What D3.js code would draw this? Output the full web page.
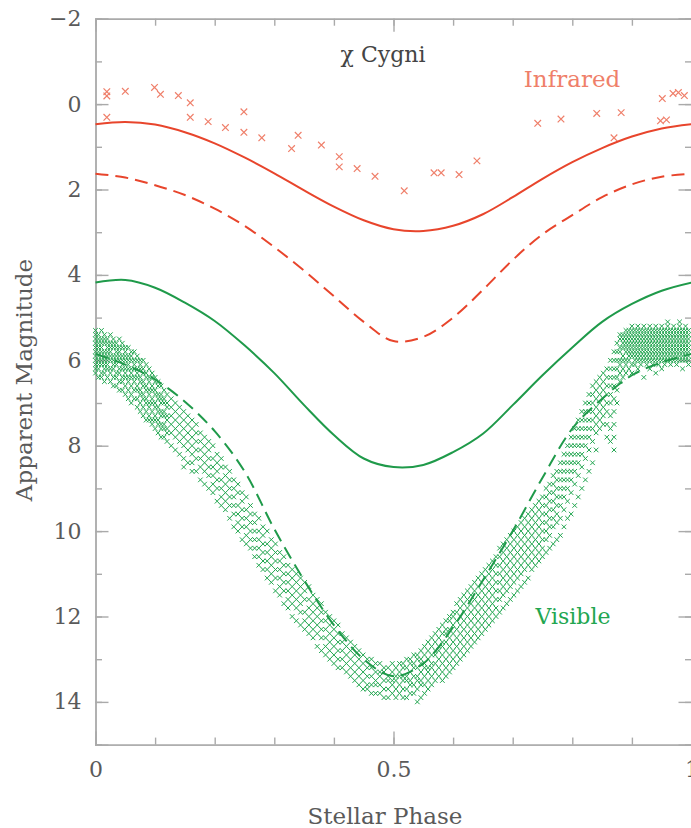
<!DOCTYPE html>
<html>
<head>
<meta charset="utf-8">
<script src="https://cdn.jsdelivr.net/npm/d3@7"></script>
<style>
body { margin: 0; background: #fff; }
text { font-family: "DejaVu Serif", serif; }
</style>
</head>
<body>
<div id="chart-area"></div>
<script>
// phase grid for the model curves
const phases = [0, 0.05, 0.1, 0.15, 0.2, 0.25, 0.3, 0.35, 0.4, 0.45, 0.5,
	0.55, 0.6, 0.65, 0.7, 0.75, 0.8, 0.85, 0.9, 0.95, 1];
const irSolid = [0.47, 0.42, 0.48, 0.66, 0.92, 1.25, 1.62, 2.02, 2.4, 2.72, 2.93,
	2.97, 2.85, 2.58, 2.18, 1.75, 1.36, 1.03, 0.76, 0.57, 0.47];
const irDashed = [1.63, 1.72, 1.9, 2.13, 2.45, 2.85, 3.35, 3.9, 4.5, 5.1, 5.55,
	5.45, 5.0, 4.35, 3.65, 3.05, 2.6, 2.18, 1.88, 1.7, 1.63];
const visSolid = [4.18, 4.12, 4.3, 4.65, 5.08, 5.65, 6.3, 7.05, 7.75, 8.3, 8.5,
	8.45, 8.15, 7.72, 7.05, 6.35, 5.7, 5.1, 4.68, 4.37, 4.18];
const visDashed = [5.85, 6.1, 6.45, 6.97, 7.66, 8.6, 9.95, 11.15, 12.2, 13.0, 13.4,
	13.1, 12.25, 11.15, 10.0, 8.75, 7.6, 6.9, 6.35, 6.05, 5.85];

// infrared observations [phase, magnitude]
const irObs = [
	[0.019, -0.29], [0.019, -0.19], [0.05, -0.30], [0.099, -0.39], [0.109, -0.23],
	[0.139, -0.20], [0.159, -0.03], [0.019, 0.31], [0.159, 0.31], [0.189, 0.41],
	[0.218, 0.55], [0.249, 0.18], [0.249, 0.66], [0.279, 0.79], [0.34, 0.73],
	[0.329, 1.04], [0.379, 0.96], [0.409, 1.23], [0.409, 1.47], [0.439, 1.51],
	[0.469, 1.69], [0.518, 2.03], [0.568, 1.61], [0.58, 1.61], [0.61, 1.65],
	[0.64, 1.33], [0.742, 0.45], [0.781, 0.35], [0.841, 0.22], [0.882, 0.20],
	[0.87, 0.79], [0.951, -0.13], [0.969, -0.25], [0.978, -0.27], [0.948, 0.39],
	[0.958, 0.37], [0.988, -0.2]
];

// visible observations, grouped by phase: [phase, [magnitudes]]
const visObs = [
	[0.000, [5.3, 5.4, 5.5, 5.6, 5.7, 5.8, 5.9, 6.0, 6.1, 6.2, 6.3]],
	[0.005, [5.4, 5.5, 5.6, 5.7, 5.8, 5.9, 6.0, 6.1, 6.2, 6.4]],
	[0.010, [5.3, 5.5, 5.6, 5.7, 5.8, 5.9, 6.0, 6.1, 6.3, 6.4]],
	[0.015, [5.4, 5.5, 5.6, 5.8, 5.9, 6.0, 6.1, 6.2, 6.3, 6.5]],
	[0.020, [5.5, 5.6, 5.7, 5.8, 5.9, 6.0, 6.1, 6.2, 6.4]],
	[0.025, [5.4, 5.6, 5.7, 5.8, 5.9, 6.0, 6.2, 6.3, 6.5]],
	[0.030, [5.5, 5.6, 5.7, 5.9, 6.0, 6.1, 6.2, 6.4, 6.6]],
	[0.035, [5.6, 5.7, 5.8, 5.9, 6.0, 6.1, 6.3, 6.4, 6.6]],
	[0.040, [5.5, 5.7, 5.8, 5.9, 6.0, 6.2, 6.3, 6.5, 6.7]],
	[0.045, [5.6, 5.7, 5.9, 6.0, 6.1, 6.2, 6.4, 6.5, 6.7]],
	[0.050, [5.7, 5.8, 5.9, 6.0, 6.2, 6.3, 6.4, 6.6, 6.8]],
	[0.055, [5.7, 5.9, 6.0, 6.1, 6.2, 6.4, 6.5, 6.7, 6.9]],
	[0.060, [5.8, 5.9, 6.0, 6.2, 6.3, 6.4, 6.6, 6.8, 7.0]],
	[0.065, [5.8, 6.0, 6.1, 6.2, 6.4, 6.5, 6.7, 6.9]],
	[0.070, [5.9, 6.0, 6.2, 6.3, 6.4, 6.6, 6.7, 6.9, 7.1]],
	[0.075, [6.0, 6.1, 6.2, 6.4, 6.5, 6.7, 6.8, 7.0, 7.2]],
	[0.080, [6.0, 6.2, 6.3, 6.5, 6.6, 6.8, 6.9, 7.1, 7.3]],
	[0.085, [6.1, 6.3, 6.4, 6.6, 6.7, 6.9, 7.0, 7.2, 7.4]],
	[0.090, [6.2, 6.4, 6.5, 6.7, 6.8, 7.0, 7.1, 7.3, 7.4]],
	[0.095, [6.3, 6.4, 6.6, 6.7, 6.9, 7.0, 7.2, 7.4, 7.5]],
	[0.100, [6.4, 6.5, 6.7, 6.8, 7.0, 7.1, 7.3, 7.4, 7.6]],
	[0.105, [6.5, 6.6, 6.8, 6.9, 7.1, 7.2, 7.4, 7.5, 7.7]],
	[0.110, [6.6, 6.8, 6.9, 7.0, 7.2, 7.3, 7.5, 7.6, 7.8]],
	[0.115, [6.7, 6.9, 7.0, 7.2, 7.3, 7.5, 7.6, 7.8]],
	[0.120, [6.8, 7.0, 7.1, 7.3, 7.4, 7.6, 7.7, 7.9]],
	[0.127, [6.9, 7.1, 7.3, 7.5, 7.7, 8.0]],
	[0.134, [7.0, 7.2, 7.4, 7.6, 7.8, 8.1]],
	[0.141, [7.1, 7.3, 7.5, 7.7, 7.9, 8.2]],
	[0.148, [7.2, 7.4, 7.6, 7.8, 8.0, 8.3, 8.5]],
	[0.155, [7.3, 7.5, 7.7, 7.9, 8.1, 8.4]],
	[0.162, [7.4, 7.6, 7.8, 8.0, 8.2, 8.4, 8.6]],
	[0.169, [7.5, 7.7, 7.9, 8.1, 8.3, 8.6]],
	[0.176, [7.7, 7.9, 8.1, 8.3, 8.5, 8.8]],
	[0.183, [7.8, 8.0, 8.2, 8.4, 8.6, 8.9]],
	[0.190, [7.9, 8.1, 8.3, 8.5, 8.7, 9.0]],
	[0.197, [8.0, 8.3, 8.5, 8.7, 8.9, 9.1]],
	[0.204, [8.2, 8.4, 8.6, 8.8, 9.0, 9.3]],
	[0.211, [8.3, 8.5, 8.8, 9.0, 9.2, 9.4]],
	[0.218, [8.5, 8.7, 8.9, 9.1, 9.3, 9.5]],
	[0.225, [8.6, 8.8, 9.0, 9.2, 9.4, 9.7]],
	[0.232, [8.8, 9.0, 9.2, 9.4, 9.6, 9.9]],
	[0.239, [8.9, 9.1, 9.4, 9.6, 9.8, 10.0]],
	[0.246, [9.1, 9.3, 9.5, 9.7, 9.9, 10.2]],
	[0.253, [9.2, 9.5, 9.7, 9.9, 10.1, 10.3]],
	[0.260, [9.4, 9.6, 9.8, 10.0, 10.2, 10.4]],
	[0.267, [9.6, 9.8, 10.0, 10.2, 10.4, 10.6]],
	[0.274, [9.7, 10.0, 10.2, 10.4, 10.6, 10.8]],
	[0.281, [9.9, 10.1, 10.3, 10.5, 10.7, 10.9]],
	[0.288, [10.0, 10.3, 10.5, 10.7, 10.9, 11.1]],
	[0.295, [10.2, 10.4, 10.6, 10.8, 11.0, 11.2]],
	[0.302, [10.3, 10.5, 10.7, 10.9, 11.1, 11.4]],
	[0.309, [10.5, 10.7, 10.9, 11.1, 11.3, 11.5]],
	[0.316, [10.6, 10.8, 11.0, 11.2, 11.4, 11.7]],
	[0.323, [10.8, 11.0, 11.2, 11.4, 11.6, 11.8]],
	[0.330, [10.9, 11.1, 11.3, 11.5, 11.7, 12.0]],
	[0.337, [11.0, 11.2, 11.4, 11.6, 11.8, 12.1]],
	[0.344, [11.1, 11.3, 11.5, 11.7, 11.9, 12.2]],
	[0.351, [11.2, 11.4, 11.6, 11.9, 12.1, 12.3]],
	[0.358, [11.3, 11.6, 11.8, 12.0, 12.2, 12.4]],
	[0.365, [11.5, 11.7, 11.9, 12.1, 12.3, 12.5]],
	[0.372, [11.6, 11.8, 12.0, 12.2, 12.4, 12.7]],
	[0.379, [11.7, 11.9, 12.1, 12.3, 12.5, 12.8]],
	[0.386, [11.9, 12.1, 12.3, 12.5, 12.7, 12.9]],
	[0.393, [12.0, 12.2, 12.4, 12.6, 12.8, 13.0]],
	[0.400, [12.1, 12.3, 12.5, 12.7, 12.9, 13.1]],
	[0.407, [12.2, 12.4, 12.6, 12.8, 13.0, 13.2]],
	[0.414, [12.4, 12.6, 12.8, 13.0, 13.2]],
	[0.421, [12.5, 12.7, 12.9, 13.1, 13.3]],
	[0.428, [12.6, 12.8, 13.0, 13.2, 13.4]],
	[0.435, [12.7, 12.9, 13.1, 13.3, 13.5]],
	[0.442, [12.8, 13.0, 13.2, 13.4, 13.6]],
	[0.449, [12.9, 13.1, 13.3, 13.5, 13.7]],
	[0.456, [13.0, 13.2, 13.4, 13.6, 13.7]],
	[0.463, [13.0, 13.2, 13.4, 13.6, 13.8]],
	[0.470, [13.1, 13.3, 13.5, 13.6, 13.8]],
	[0.477, [13.1, 13.3, 13.4, 13.6, 13.8]],
	[0.484, [13.2, 13.3, 13.5, 13.7, 13.9]],
	[0.491, [13.2, 13.4, 13.5, 13.7, 13.9]],
	[0.498, [13.1, 13.3, 13.5, 13.6, 13.8]],
	[0.504, [13.2, 13.4, 13.5, 13.7, 13.9]],
	[0.510, [13.1, 13.3, 13.4, 13.6, 13.8]],
	[0.516, [13.1, 13.2, 13.4, 13.5, 13.7, 13.9]],
	[0.522, [13.0, 13.2, 13.4, 13.5, 13.7, 13.9]],
	[0.528, [13.0, 13.1, 13.3, 13.5, 13.6, 13.8]],
	[0.534, [12.9, 13.1, 13.2, 13.4, 13.6, 13.8]],
	[0.540, [12.9, 13.0, 13.2, 13.4, 13.5, 13.7, 14.0]],
	[0.546, [12.8, 13.0, 13.1, 13.3, 13.5, 13.6, 13.9]],
	[0.552, [12.7, 12.9, 13.1, 13.2, 13.4, 13.6, 13.8]],
	[0.558, [12.6, 12.8, 13.0, 13.2, 13.3, 13.5, 13.7]],
	[0.564, [12.5, 12.7, 12.9, 13.1, 13.2, 13.4, 13.6]],
	[0.570, [12.4, 12.6, 12.8, 12.9, 13.1, 13.3, 13.5]],
	[0.576, [12.3, 12.5, 12.7, 12.8, 13.0, 13.2, 13.4]],
	[0.582, [12.2, 12.4, 12.6, 12.7, 12.9, 13.1, 13.3, 13.5]],
	[0.588, [12.1, 12.3, 12.4, 12.6, 12.8, 13.0, 13.2, 13.4]],
	[0.594, [12.0, 12.1, 12.3, 12.5, 12.7, 12.9, 13.1, 13.3]],
	[0.600, [11.9, 12.0, 12.2, 12.4, 12.6, 12.8, 13.0, 13.2]],
	[0.606, [11.7, 11.9, 12.1, 12.3, 12.5, 12.7, 12.9, 13.1]],
	[0.612, [11.6, 11.8, 12.0, 12.2, 12.4, 12.6, 12.8, 13.0]],
	[0.618, [11.5, 11.7, 11.9, 12.1, 12.3, 12.5, 12.7, 12.9]],
	[0.624, [11.4, 11.6, 11.8, 12.0, 12.2, 12.4, 12.6, 12.8]],
	[0.630, [11.3, 11.5, 11.7, 11.9, 12.1, 12.3, 12.5, 12.7]],
	[0.636, [11.2, 11.4, 11.6, 11.8, 12.0, 12.2, 12.4, 12.6]],
	[0.642, [11.1, 11.3, 11.5, 11.7, 11.9, 12.1, 12.3, 12.5]],
	[0.648, [11.0, 11.2, 11.4, 11.6, 11.8, 12.0, 12.2, 12.4]],
	[0.654, [10.9, 11.1, 11.3, 11.5, 11.7, 11.9, 12.1, 12.3]],
	[0.660, [10.8, 11.0, 11.2, 11.4, 11.6, 11.8, 12.0, 12.2]],
	[0.666, [10.7, 10.9, 11.1, 11.3, 11.5, 11.7, 11.9, 12.1]],
	[0.672, [10.6, 10.8, 11.0, 11.2, 11.4, 11.6, 11.8, 12.0]],
	[0.678, [10.4, 10.6, 10.8, 11.0, 11.2, 11.4, 11.6, 11.9]],
	[0.684, [10.3, 10.5, 10.7, 10.9, 11.1, 11.3, 11.5, 11.8]],
	[0.690, [10.2, 10.4, 10.6, 10.8, 11.0, 11.2, 11.4, 11.7]],
	[0.696, [10.1, 10.3, 10.5, 10.7, 10.9, 11.1, 11.3, 11.6]],
	[0.702, [10.0, 10.2, 10.4, 10.6, 10.8, 11.0, 11.2, 11.5]],
	[0.708, [9.9, 10.1, 10.3, 10.5, 10.7, 10.9, 11.1, 11.4]],
	[0.714, [9.8, 10.0, 10.2, 10.4, 10.6, 10.8, 11.0, 11.3]],
	[0.720, [9.7, 9.9, 10.1, 10.3, 10.5, 10.7, 10.9, 11.2]],
	[0.726, [9.6, 9.8, 10.0, 10.2, 10.4, 10.6, 10.8, 11.1]],
	[0.732, [9.5, 9.7, 9.9, 10.1, 10.3, 10.5, 10.7, 10.9]],
	[0.738, [9.4, 9.6, 9.8, 10.0, 10.2, 10.4, 10.6, 10.8]],
	[0.744, [9.3, 9.5, 9.7, 9.9, 10.1, 10.3, 10.5, 10.7]],
	[0.750, [9.2, 9.4, 9.6, 9.8, 10.0, 10.2, 10.4, 10.6]],
	[0.756, [9.0, 9.2, 9.4, 9.6, 9.8, 10.0, 10.2, 10.5]],
	[0.762, [8.9, 9.1, 9.3, 9.5, 9.7, 9.9, 10.1, 10.4]],
	[0.768, [8.7, 8.9, 9.1, 9.3, 9.5, 9.7, 9.9, 10.3]],
	[0.774, [8.6, 8.8, 9.0, 9.2, 9.4, 9.6, 9.8, 10.2]],
	[0.780, [8.4, 8.6, 8.8, 9.0, 9.2, 9.4, 9.7, 10.1]],
	[0.786, [8.2, 8.4, 8.6, 8.8, 9.0, 9.2, 9.5, 9.9]],
	[0.792, [8.0, 8.2, 8.4, 8.6, 8.8, 9.0, 9.3, 9.7]],
	[0.798, [7.8, 8.0, 8.2, 8.4, 8.6, 8.8, 9.1, 9.6]],
	[0.804, [7.6, 7.8, 8.0, 8.2, 8.4, 8.6, 8.9, 9.4]],
	[0.810, [7.4, 7.6, 7.8, 8.0, 8.2, 8.4, 8.7, 9.2]],
	[0.816, [7.2, 7.4, 7.6, 7.8, 8.0, 8.2, 8.5, 9.0]],
	[0.822, [7.0, 7.2, 7.4, 7.6, 7.8, 8.0, 8.3, 8.8]],
	[0.828, [6.8, 7.0, 7.2, 7.4, 7.6, 7.8, 8.1, 8.6]],
	[0.834, [6.6, 6.8, 7.0, 7.2, 7.4, 7.6, 7.9, 8.4]],
	[0.840, [6.5, 6.7, 6.9, 7.1, 7.3, 7.5, 7.7, 8.1]],
	[0.846, [6.4, 6.6, 6.8, 7.0, 7.2, 7.4, 7.6]],
	[0.852, [6.3, 6.5, 6.7, 6.9, 7.1, 7.3, 7.5]],
	[0.858, [6.2, 6.4, 6.6, 6.8, 7.0, 7.2, 7.5, 7.8]],
	[0.864, [6.0, 6.2, 6.4, 6.6, 6.8, 7.0, 7.3, 7.6, 7.9]],
	[0.870, [5.8, 6.0, 6.2, 6.4, 6.6, 6.9, 7.2, 7.5, 7.8, 8.1]],
	[0.875, [5.6, 5.8, 6.0, 6.2, 6.4, 6.7, 7.0]],
	[0.880, [5.4, 5.5, 5.7, 5.8, 6.0, 6.1, 6.3, 6.5]],
	[0.885, [5.4, 5.5, 5.6, 5.7, 5.9, 6.0, 6.2, 6.4]],
	[0.890, [5.3, 5.4, 5.5, 5.6, 5.7, 5.8, 6.0, 6.1, 6.3]],
	[0.895, [5.3, 5.4, 5.5, 5.6, 5.7, 5.8, 5.9, 6.0, 6.2]],
	[0.900, [5.2, 5.3, 5.4, 5.5, 5.6, 5.7, 5.8, 5.9, 6.1, 6.3]],
	[0.905, [5.3, 5.4, 5.5, 5.6, 5.7, 5.8, 5.9, 6.0, 6.1]],
	[0.910, [5.2, 5.3, 5.4, 5.5, 5.6, 5.7, 5.8, 5.9, 6.0, 6.2]],
	[0.915, [5.3, 5.4, 5.5, 5.6, 5.7, 5.8, 5.9, 6.0, 6.1]],
	[0.920, [5.2, 5.3, 5.4, 5.5, 5.6, 5.7, 5.8, 5.9, 6.0, 6.4]],
	[0.925, [5.3, 5.4, 5.5, 5.6, 5.7, 5.8, 5.9, 6.0, 6.1]],
	[0.930, [5.2, 5.3, 5.4, 5.5, 5.6, 5.7, 5.8, 5.9, 6.0, 6.2]],
	[0.935, [5.3, 5.4, 5.5, 5.6, 5.7, 5.8, 5.9, 6.0, 6.1]],
	[0.940, [5.2, 5.3, 5.4, 5.5, 5.6, 5.7, 5.8, 5.9, 6.0, 6.3]],
	[0.945, [5.3, 5.4, 5.5, 5.6, 5.7, 5.8, 5.9, 6.0, 6.1]],
	[0.950, [5.2, 5.3, 5.4, 5.5, 5.6, 5.7, 5.8, 5.9, 6.0, 6.2]],
	[0.955, [5.3, 5.4, 5.5, 5.6, 5.7, 5.8, 5.9, 6.0, 6.1]],
	[0.960, [5.1, 5.2, 5.3, 5.4, 5.5, 5.6, 5.7, 5.8, 5.9, 6.0]],
	[0.965, [5.3, 5.4, 5.5, 5.6, 5.7, 5.8, 5.9, 6.0, 6.1]],
	[0.970, [5.2, 5.3, 5.4, 5.5, 5.6, 5.7, 5.8, 5.9, 6.0]],
	[0.975, [5.3, 5.4, 5.5, 5.6, 5.7, 5.8, 5.9, 6.0, 6.1]],
	[0.980, [5.1, 5.2, 5.3, 5.4, 5.5, 5.6, 5.7, 5.8, 5.9, 6.0]],
	[0.985, [5.3, 5.4, 5.5, 5.6, 5.7, 5.8, 5.9, 6.0, 6.2]],
	[0.990, [5.2, 5.3, 5.4, 5.5, 5.6, 5.7, 5.8, 5.9, 6.0]],
	[0.995, [5.3, 5.4, 5.5, 5.6, 5.7, 5.8, 5.9, 6.0, 6.1]]
];

const xTicksMajor = [0, 0.5, 1];
const yTicksMajor = [-2, 0, 2, 4, 6, 8, 10, 12, 14];

const red = "#e8452c", salmon = "#ef7f6a", green = "#1f9a4a", ptGreen = "#22a650";
const axisColor = "#aaa", textColor = "#5a5a5a";

const svg = d3.select("#chart-area").append("svg")
	.attr("width", 691)
	.attr("height", 828);

const x = d3.scaleLinear().domain([0, 1]).range([95.5, 691.5]);
const y = d3.scaleLinear().domain([-2, 15]).range([18.7, 744.6]);

// axes: ticks point inwards, minor every 0.1 / 1
function styleAxis(g) {
	g.selectAll("path, line").attr("stroke", axisColor).attr("stroke-width", 1.4);
	g.selectAll("text").attr("fill", textColor)
		.style("font-family", "DejaVu Serif, serif").style("font-size", "22px");
}

const minorX = d3.range(0, 1.01, 0.1);
const minorY = d3.range(-2, 15.01, 1);

svg.append("g").attr("transform", `translate(0,${y(15)})`)
	.call(d3.axisBottom(x).tickValues(minorX).tickSize(-7).tickFormat(""))
	.call(styleAxis);
svg.append("g").attr("transform", `translate(0,${y(15)})`)
	.call(d3.axisBottom(x).tickValues(xTicksMajor).tickSize(-13).tickPadding(17)
		.tickFormat(d => d === 0.5 ? "0.5" : d3.format("d")(d)))
	.call(styleAxis);
svg.append("g").attr("transform", `translate(0,${y(-2)})`)
	.call(d3.axisTop(x).tickValues(minorX).tickSize(-7).tickFormat(""))
	.call(styleAxis);
svg.append("g").attr("transform", `translate(0,${y(-2)})`)
	.call(d3.axisTop(x).tickValues([0.5]).tickSize(-13).tickFormat(""))
	.call(styleAxis);

svg.append("g").attr("transform", `translate(${x(0)},0)`)
	.call(d3.axisLeft(y).tickValues(minorY).tickSize(-6.5).tickFormat(""))
	.call(styleAxis);
svg.append("g").attr("transform", `translate(${x(0)},0)`)
	.call(d3.axisLeft(y).tickValues(yTicksMajor).tickSize(-13).tickPadding(14))
	.call(styleAxis);
svg.append("g").attr("transform", `translate(${x(1)},0)`)
	.call(d3.axisRight(y).tickValues(minorY).tickSize(-6.5).tickFormat(""))
	.call(styleAxis);
svg.append("g").attr("transform", `translate(${x(1)},0)`)
	.call(d3.axisRight(y).tickValues(yTicksMajor).tickSize(-13).tickFormat(""))
	.call(styleAxis);

// visible observations
const visPts = visObs.flatMap(([p, ms]) => ms.map(m => [p, m]));
const s = 2.3;
svg.append("g").selectAll("path").data(visPts).enter()
	.append("path")
	.attr("transform", d => `translate(${x(d[0])},${y(d[1])})`)
	.attr("d", `M${-s},${-s}L${s},${s}M${-s},${s}L${s},${-s}`)
	.attr("stroke", ptGreen)
	.attr("stroke-width", 1)
	.attr("fill", "none");

// infrared observations
const r = 3.3;
svg.append("g").selectAll("path").data(irObs).enter()
	.append("path")
	.attr("transform", d => `translate(${x(d[0])},${y(d[1])})`)
	.attr("d", `M${-r},${-r}L${r},${r}M${-r},${r}L${r},${-r}`)
	.attr("stroke", salmon)
	.attr("stroke-width", 1.2)
	.attr("fill", "none");

// model curves
const line = d3.line()
	.x((d, i) => x(phases[i]))
	.y(d => y(d))
	.curve(d3.curveCatmullRom);

const curves = [
	{ values: irSolid, color: red, dash: null },
	{ values: irDashed, color: red, dash: "13,7" },
	{ values: visSolid, color: green, dash: null },
	{ values: visDashed, color: green, dash: "13,7" }
];

svg.append("g").selectAll("path").data(curves).enter()
	.append("path")
	.attr("d", d => line(d.values))
	.attr("fill", "none")
	.attr("stroke", d => d.color)
	.attr("stroke-width", 2)
	.attr("stroke-dasharray", d => d.dash);

// labels
svg.append("text")
	.attr("x", 383)
	.attr("y", 62)
	.attr("text-anchor", "middle")
	.attr("fill", "#444")
	.style("font-size", "22px")
	.text("χ Cygni");

svg.append("text")
	.attr("x", 572)
	.attr("y", 87)
	.attr("text-anchor", "middle")
	.attr("fill", salmon)
	.style("font-size", "23px")
	.text("Infrared");

svg.append("text")
	.attr("x", 573)
	.attr("y", 624)
	.attr("text-anchor", "middle")
	.attr("fill", ptGreen)
	.style("font-size", "22px")
	.text("Visible");

svg.append("text")
	.attr("x", 385)
	.attr("y", 824)
	.attr("text-anchor", "middle")
	.attr("fill", textColor)
	.style("font-size", "23px")
	.text("Stellar Phase");

svg.append("text")
	.attr("x", -380)
	.attr("y", 32)
	.attr("text-anchor", "middle")
	.attr("transform", "rotate(-90)")
	.attr("fill", textColor)
	.style("font-size", "23px")
	.text("Apparent Magnitude");
</script>
</body>
</html>
